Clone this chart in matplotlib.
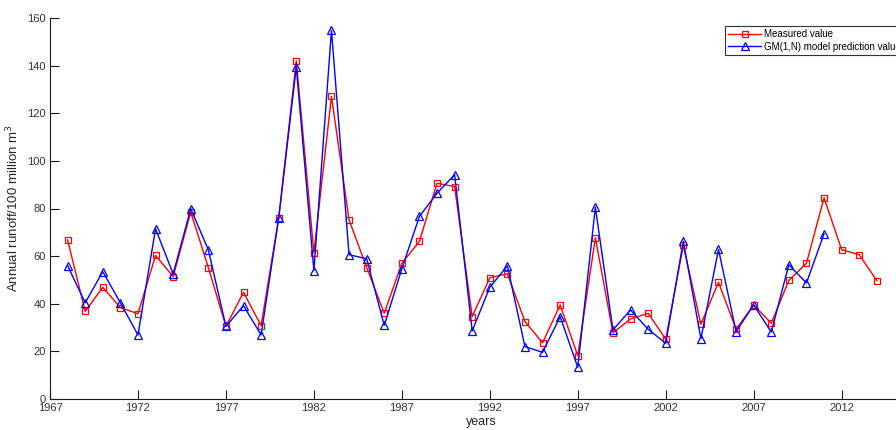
import matplotlib
matplotlib.use("Agg")
import matplotlib.pyplot as plt

plt.rcParams["font.family"] = ["Liberation Sans", "DejaVu Sans"]

# annual runoff, 100 million m3
years_measured = list(range(1968, 2015))
measured = [66.8, 36.8, 46.9, 38.4, 35.8, 60.3, 51.4, 78.5, 55.2, 30.5,
            44.8, 30.8, 75.9, 142.0, 61.4, 127.1, 75.2, 55.2, 36.0, 57.0,
            66.2, 90.6, 89.2, 34.6, 50.9, 52.6, 32.5, 23.6, 39.5, 18.2,
            67.7, 27.8, 33.6, 36.0, 25.1, 64.5, 31.4, 49.0, 29.3, 39.5,
            31.8, 49.8, 57.0, 84.5, 62.7, 60.6, 49.7]

years_model = list(range(1968, 2012))
predicted = [56.0, 40.4, 53.5, 40.4, 26.9, 71.5, 52.5, 79.9, 62.7, 30.5,
             39.2, 26.9, 75.9, 139.4, 53.9, 154.8, 60.6, 58.9, 30.9, 54.7,
             76.7, 86.4, 94.2, 28.6, 46.9, 55.9, 22.0, 19.6, 34.6, 13.3,
             80.5, 29.0, 37.4, 29.3, 23.4, 66.2, 25.3, 62.8, 28.3, 39.5,
             28.1, 56.4, 48.7, 69.4]

xticks = [1967, 1972, 1977, 1982, 1987, 1992, 1997, 2002, 2007, 2012]
yticks = [0, 20, 40, 60, 80, 100, 120, 140, 160]

fig = plt.figure(figsize=(8.96, 4.3), dpi=100)
# axes runs past the right edge of the figure
ax = fig.add_axes([50 / 896, 31 / 430, 862 / 896, 381 / 430])

ax.plot(years_measured, measured, color="red", linewidth=1.0, marker="s",
        markersize=4, markerfacecolor="none", markeredgewidth=0.9,
        label="Measured value")
ax.plot(years_model, predicted, color="blue", linewidth=1.0, marker="^",
        markersize=6, markerfacecolor="none", markeredgewidth=0.9,
        label="GM(1,N) model prediction value")

ax.set_xlim(1967, 2016)
ax.set_ylim(0, 160)
ax.set_xticks(xticks)
ax.set_yticks(yticks)
ax.tick_params(direction="in", length=6.5, width=0.8, labelsize=8,
               color="#1a1a1a", labelcolor="#333333", pad=3)
ax.spines["top"].set_visible(False)
ax.spines["right"].set_visible(False)
for s in ("left", "bottom"):
    ax.spines[s].set_color("#1a1a1a")
    ax.spines[s].set_linewidth(0.8)

ax.set_xlabel("years", fontsize=9, color="#262626", labelpad=2)
ax.set_ylabel("Annual runoff/100 million m$^3$", fontsize=9.5,
              color="#262626", labelpad=4)

leg = ax.legend(loc="upper left", bbox_to_anchor=(725 / 896, 1 - 26 / 430),
                bbox_transform=fig.transFigure, fontsize=7, frameon=True,
                fancybox=False, borderpad=0.35, handlelength=3.4,
                handletextpad=0.3, labelspacing=0.25, borderaxespad=0)
leg.get_frame().set_edgecolor("black")
leg.get_frame().set_linewidth(0.8)

fig.savefig("out.png", dpi=100)
